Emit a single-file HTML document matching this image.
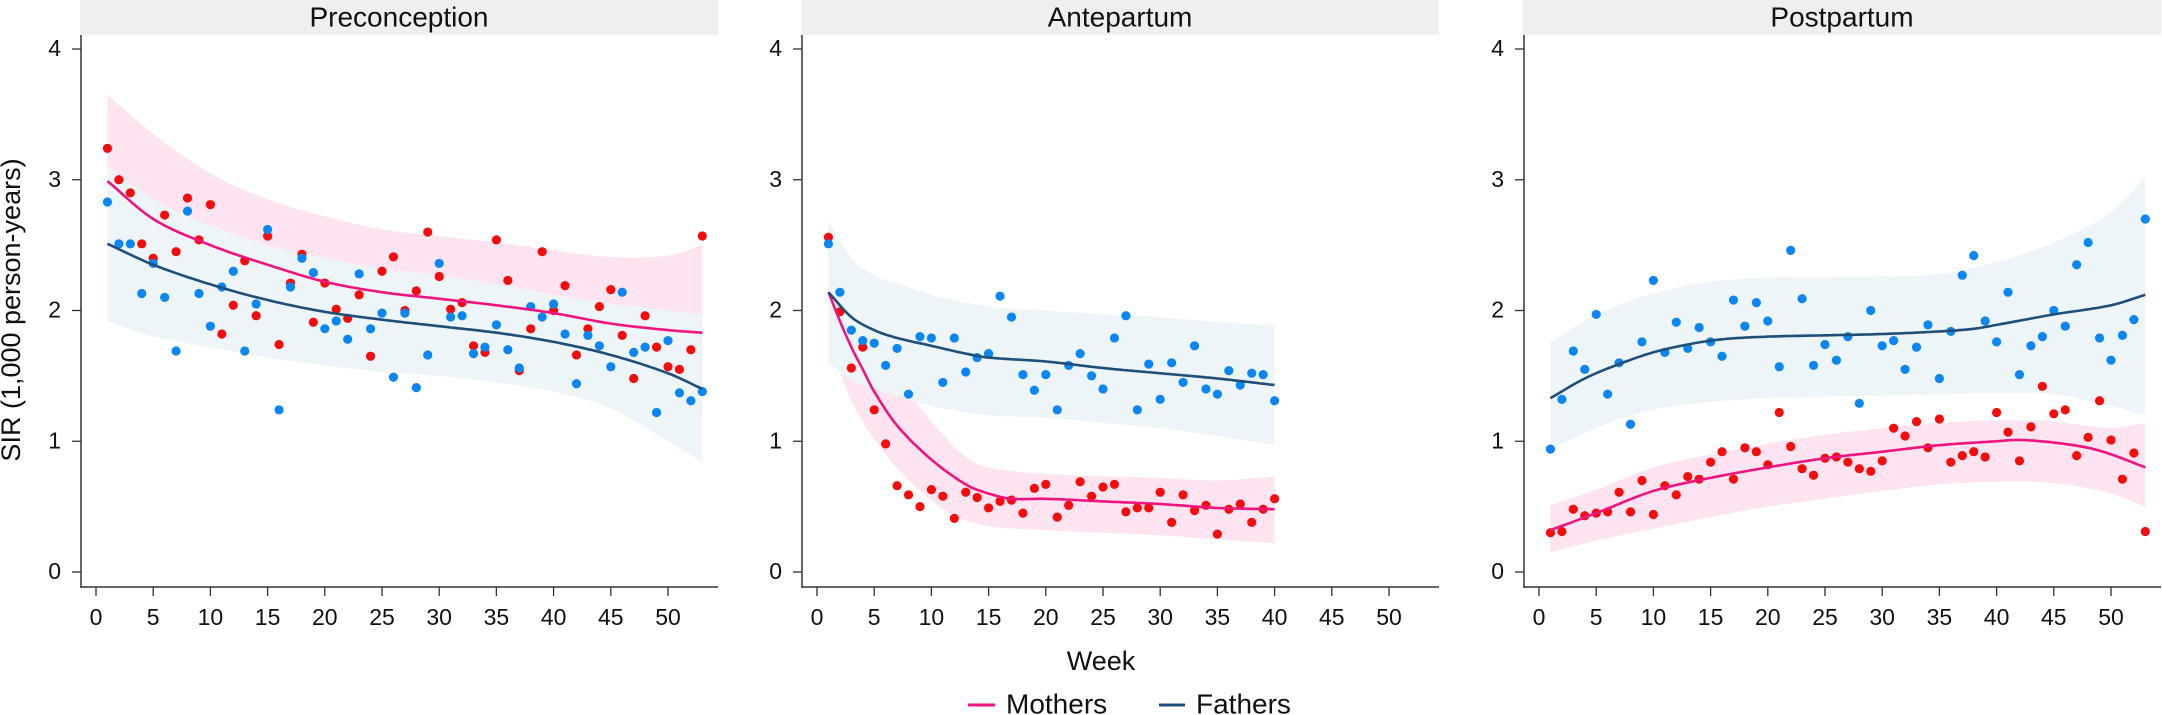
<!DOCTYPE html>
<html><head><meta charset="utf-8">
<style>
html,body{margin:0;padding:0;background:#fff;}
svg{display:block;}
text{font-family:"Liberation Sans",sans-serif;fill:#111;}
</style></head>
<body>
<svg id="s" width="2162" height="715" viewBox="0 0 2162 715" xmlns="http://www.w3.org/2000/svg">
<rect width="2162" height="715" fill="#fff"/>
<text x="13" y="310" font-size="27" text-anchor="middle" dominant-baseline="middle" transform="rotate(-90 13 310)">SIR (1,000 person-years)</text>
<text x="1101" y="663" font-size="27" text-anchor="middle" dominant-baseline="middle">Week</text>
<line x1="968" y1="705" x2="995" y2="705" stroke="#f0147f" stroke-width="3"/>
<text x="1006" y="706" font-size="28" dominant-baseline="middle">Mothers</text>
<line x1="1159" y1="705" x2="1185" y2="705" stroke="#1f4e79" stroke-width="3"/>
<text x="1196" y="706" font-size="28" dominant-baseline="middle">Fathers</text>
<g id="g"></g>
</svg>
<script>
var NS="http://www.w3.org/2000/svg",G=document.getElementById('g');
function el(t,a,txt){var e=document.createElementNS(NS,t);for(var k in a)e.setAttribute(k,a[k]);if(txt!=null)e.textContent=txt;G.appendChild(e);return e;}
function Y(v){return 572-130.75*v;}
function interp(pts,w){for(var i=0;i<pts.length-1;i++){if(w<=pts[i+1][0]){var a=pts[i],b=pts[i+1],t=(w-a[0])/(b[0]-a[0]);
var p0=pts[Math.max(0,i-1)],p3=pts[Math.min(pts.length-1,i+2)];
var m1=(b[1]-p0[1])/(b[0]-p0[0])*(b[0]-a[0]),m2=(p3[1]-a[1])/(p3[0]-a[0])*(b[0]-a[0]);
var t2=t*t,t3=t2*t;return (2*t3-3*t2+1)*a[1]+(t3-2*t2+t)*m1+(-2*t3+3*t2)*b[1]+(t3-t2)*m2;}}return pts[pts.length-1][1];}
function curve(P,pts){var w0=pts[0][0],w1=pts[pts.length-1][0],s=[];for(var w=w0;w<=w1+1e-6;w+=0.25)s.push([P+15+11.44*w,Y(interp(pts,w))]);return s;}
function band(P,up,lo,fill){var a=curve(P,up),b=curve(P,lo).reverse();var d="M"+a.concat(b).map(function(p){return p[0].toFixed(1)+","+p[1].toFixed(1)}).join("L")+"Z";el('path',{d:d,fill:fill});}
function line(P,pts,col){var a=curve(P,pts);el('path',{d:"M"+a.map(function(p){return p[0].toFixed(1)+","+p[1].toFixed(1)}).join("L"),fill:"none",stroke:col,"stroke-width":2.6});}
function dots(P,vals,col){for(var i=0;i<vals.length;i++)el('circle',{cx:P+15+11.44*(i+1),cy:Y(vals[i]),r:4.6,fill:col});}
function frame(P,title){
el('rect',{x:P-1,y:0,width:638,height:35,fill:'#efefef'});
el('text',{x:P+318,y:19,"font-size":28,"text-anchor":"middle","dominant-baseline":"middle"},title);
el('line',{x1:P,y1:35,x2:P,y2:588,stroke:'#333','stroke-width':1.5});
el('line',{x1:P,y1:587,x2:P+637,y2:587,stroke:'#333','stroke-width':1.5});
for(var v=0;v<=4;v++){el('line',{x1:P-9,y1:Y(v),x2:P,y2:Y(v),stroke:'#333','stroke-width':1.3});
el('text',{x:P-20,y:Y(v)+1,"font-size":23,"text-anchor":"end","dominant-baseline":"middle"},String(v));}
for(var w=0;w<=50;w+=5){var x=P+15+11.44*w;el('line',{x1:x,y1:587,x2:x,y2:596,stroke:'#333','stroke-width':1.3});
el('text',{x:x,y:619,"font-size":23,"text-anchor":"middle","dominant-baseline":"middle"},String(w));}
}
var RED='#f50d0d',BLUE='#0b86f2',PK='#f0147f',NV='#1f4e79',PB='#fde4f0',BB='#edf5f9';
// Panel 1
var P=81;
band(P,[[1,3.65],[5,3.35],[10,3.05],[15,2.85],[20,2.72],[25,2.62],[30,2.57],[35,2.52],[40,2.46],[45,2.41],[50,2.42],[53,2.5]],
[[1,2.33],[5,2.1],[10,1.95],[15,1.85],[20,1.75],[25,1.68],[30,1.63],[35,1.58],[40,1.52],[45,1.43],[50,1.32],[53,1.2]],PB);
band(P,[[1,3.1],[5,2.85],[10,2.65],[15,2.5],[20,2.4],[25,2.32],[30,2.27],[35,2.2],[40,2.12],[45,2.05],[50,2.0],[53,1.97]],
[[1,1.92],[5,1.8],[10,1.72],[15,1.64],[20,1.58],[25,1.53],[30,1.5],[35,1.45],[40,1.38],[45,1.25],[50,1.0],[53,0.84]],BB);
dots(P,[3.24,3.0,2.9,2.51,2.4,2.73,2.45,2.86,2.54,2.81,1.82,2.04,2.38,1.96,2.57,1.74,2.21,2.43,1.91,2.21,2.01,1.94,2.12,1.65,2.3,2.41,2.0,2.15,2.6,2.26,2.01,2.06,1.73,1.68,2.54,2.23,1.54,1.86,2.45,2.0,2.19,1.66,1.86,2.03,2.16,1.81,1.48,1.96,1.72,1.57,1.55,1.7,2.57],RED);
dots(P,[2.83,2.51,2.51,2.13,2.36,2.1,1.69,2.76,2.13,1.88,2.18,2.3,1.69,2.05,2.62,1.24,2.18,2.4,2.29,1.86,1.92,1.78,2.28,1.86,1.98,1.49,1.98,1.41,1.66,2.36,1.95,1.96,1.67,1.72,1.89,1.7,1.56,2.03,1.95,2.05,1.82,1.44,1.81,1.73,1.57,2.14,1.68,1.72,1.22,1.77,1.37,1.31,1.38],BLUE);
line(P,[[1,2.99],[5,2.7],[10,2.5],[15,2.35],[20,2.22],[25,2.14],[30,2.09],[35,2.04],[40,1.98],[45,1.9],[50,1.85],[53,1.83]],PK);
line(P,[[1,2.51],[5,2.35],[10,2.2],[15,2.08],[20,1.99],[25,1.93],[30,1.88],[35,1.83],[40,1.76],[45,1.66],[50,1.52],[53,1.4]],NV);
frame(P,'Preconception');
// Panel 2
P=802;
band(P,[[1,2.14],[3,1.85],[5,1.55],[8,1.36],[10,1.15],[13,0.88],[15,0.8],[20,0.75],[30,0.72],[35,0.7],[40,0.73]],
[[1,2.14],[2,1.55],[4,1.15],[6,0.9],[8,0.7],[10,0.55],[12,0.43],[15,0.35],[20,0.32],[30,0.28],[35,0.25],[40,0.22]],PB);
band(P,[[1,2.68],[3,2.4],[5,2.27],[8,2.18],[10,2.12],[15,2.03],[20,2.0],[25,1.97],[30,1.95],[35,1.91],[40,1.89]],
[[1,1.6],[3,1.47],[5,1.4],[10,1.27],[15,1.2],[20,1.18],[25,1.14],[30,1.1],[35,1.04],[40,0.97]],BB);
dots(P,[2.56,1.99,1.56,1.72,1.24,0.98,0.66,0.59,0.5,0.63,0.58,0.41,0.61,0.57,0.49,0.54,0.55,0.45,0.64,0.67,0.42,0.51,0.69,0.58,0.65,0.67,0.46,0.49,0.49,0.61,0.38,0.59,0.47,0.51,0.29,0.48,0.52,0.38,0.48,0.56],RED);
dots(P,[2.51,2.14,1.85,1.77,1.75,1.58,1.71,1.36,1.8,1.79,1.45,1.79,1.53,1.64,1.67,2.11,1.95,1.51,1.39,1.51,1.24,1.58,1.67,1.5,1.4,1.79,1.96,1.24,1.59,1.32,1.6,1.45,1.73,1.4,1.36,1.54,1.43,1.52,1.51,1.31],BLUE);
line(P,[[1,2.14],[2,1.92],[3,1.72],[4,1.55],[5,1.38],[7,1.12],[10,0.86],[13,0.67],[15,0.6],[17,0.56],[20,0.56],[25,0.54],[30,0.52],[35,0.49],[40,0.48]],PK);
line(P,[[1,2.14],[3,1.95],[5,1.85],[7,1.79],[10,1.73],[13,1.67],[15,1.64],[20,1.61],[25,1.56],[30,1.52],[35,1.48],[40,1.43]],NV);
frame(P,'Antepartum');
// Panel 3
P=1524;
band(P,[[1,1.76],[5,1.97],[10,2.13],[15,2.22],[20,2.25],[30,2.26],[35,2.28],[40,2.37],[45,2.52],[50,2.75],[53,3.02]],
[[1,0.94],[5,1.1],[10,1.24],[15,1.3],[20,1.33],[30,1.35],[35,1.36],[40,1.37],[45,1.36],[50,1.27],[53,1.2]],BB);
band(P,[[1,0.51],[5,0.63],[10,0.8],[15,0.9],[20,0.98],[25,1.05],[30,1.1],[35,1.14],[40,1.16],[45,1.15],[50,1.1],[53,1.14]],
[[1,0.15],[5,0.24],[10,0.33],[15,0.42],[20,0.5],[25,0.56],[30,0.62],[35,0.67],[40,0.69],[45,0.68],[50,0.6],[53,0.5]],PB);
dots(P,[0.94,1.32,1.69,1.55,1.97,1.36,1.6,1.13,1.76,2.23,1.68,1.91,1.71,1.87,1.76,1.65,2.08,1.88,2.06,1.92,1.57,2.46,2.09,1.58,1.74,1.62,1.8,1.29,2.0,1.73,1.77,1.55,1.72,1.89,1.48,1.84,2.27,2.42,1.92,1.76,2.14,1.51,1.73,1.8,2.0,1.88,2.35,2.52,1.79,1.62,1.81,1.93,2.7],BLUE);
dots(P,[0.3,0.31,0.48,0.43,0.45,0.46,0.61,0.46,0.7,0.44,0.66,0.59,0.73,0.71,0.84,0.92,0.71,0.95,0.92,0.82,1.22,0.96,0.79,0.74,0.87,0.88,0.84,0.79,0.77,0.85,1.1,1.04,1.15,0.95,1.17,0.84,0.89,0.92,0.88,1.22,1.07,0.85,1.11,1.42,1.21,1.24,0.89,1.03,1.31,1.01,0.71,0.91,0.31],RED);
line(P,[[1,1.33],[4,1.48],[7,1.59],[10,1.68],[13,1.74],[16,1.78],[20,1.8],[25,1.81],[30,1.82],[35,1.84],[38,1.86],[40,1.89],[45,1.97],[50,2.04],[53,2.12]],NV);
line(P,[[1,0.32],[5,0.45],[10,0.62],[15,0.72],[20,0.8],[25,0.87],[30,0.92],[35,0.97],[40,1.0],[42,1.01],[45,0.99],[48,0.95],[50,0.9],[53,0.8]],PK);
frame(P,'Postpartum');
</script>
</body></html>
